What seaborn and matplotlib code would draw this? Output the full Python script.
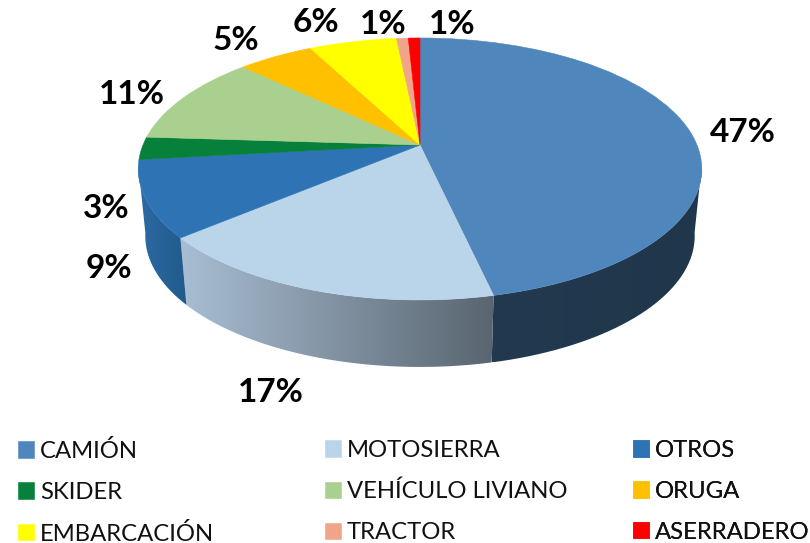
import numpy as np
import matplotlib
matplotlib.use("Agg")
import matplotlib.pyplot as plt
import seaborn as sns
from matplotlib.transforms import Transform
from matplotlib.path import Path
from matplotlib.patches import PathPatch
from matplotlib.colors import LinearSegmentedColormap

categories = ["CAMIÓN", "MOTOSIERRA", "OTROS", "SKIDER", "VEHÍCULO LIVIANO",
              "ORUGA", "EMBARCACIÓN", "TRACTOR", "ASERRADERO"]
values = [46.5, 17.3, 9.4, 2.8, 11.2, 5.2, 6.0, 0.8, 0.8]
percent_labels = ["47%", "17%", "9%", "3%", "11%", "5%", "6%", "1%", "1%"]
hex_colors = ["#4f86bb", "#bad4ea", "#2e74b5", "#07803c", "#a9d08e",
              "#ffc000", "#ffff00", "#f0a58a", "#ff0000"]
label_xy = [(743, 133), (271, 392), (109, 269), (106, 209), (132, 95),
            (236, 41), (316, 23), (383, 24), (452, 24)]
wall_ramps = {0: ("#22394f", "#1f364b"), 1: ("#a9bed3", "#596570"), 2: ("#2c6ba3", "#225a8c")}

sns.set_theme(style="white")
plt.rcParams["font.family"] = ["Lato", "DejaVu Sans"]
palette = sns.color_palette(hex_colors)

CX, CY, RX, RY, K = 420.0, 145.0, 277.0, 126.6, 0.183
DEPTH, SHRINK = 67.0, 0.975


class DiscView(Transform):
    """Tilted-disc perspective from the unit circle to figure pixels."""
    input_dims = 2
    output_dims = 2
    is_separable = False
    has_inverse = False

    def __init__(self, scale=1.0, dy=0.0):
        super().__init__()
        self.scale, self.dy = scale, dy

    def transform_non_affine(self, values):
        p = np.asarray(values, dtype=float)
        w = 1 + K * p[:, 1]
        return np.column_stack((CX + RX * self.scale * p[:, 0] / w,
                                CY + self.dy - RY * p[:, 1] / w))


fig = plt.figure(figsize=(8.1, 5.43), dpi=100)
ax = fig.add_axes([0, 0, 1, 1])

wedges, _ = ax.pie(values, colors=palette, startangle=90, counterclock=False,
                   radius=1.0, center=(0, 0),
                   wedgeprops=dict(linewidth=0.4, zorder=5))
top = DiscView()
bottom = DiscView(SHRINK, DEPTH)
for i, wd in enumerate(wedges):
    wd.set_edgecolor(hex_colors[i])
    wd.set_transform(top + ax.transData)

ax.set_aspect("auto")
ax.set_xlim(0, 810)
ax.set_ylim(543, 0)
ax.axis("off")

# side wall, built from the same slice angles
edges = np.concatenate(([0.0], np.cumsum(values))) / np.sum(values) * 360.0
for i, (c0, c1) in wall_ramps.items():
    a0, a1 = max(edges[i], 99.0), min(edges[i + 1], 261.0)
    th = np.radians(np.linspace(a0, a1, 120))
    unit = np.column_stack((np.sin(th), np.cos(th)))
    upper = top.transform(unit)
    lower = bottom.transform(unit)
    poly = np.vstack((upper, lower[::-1], upper[:1]))
    patch = PathPatch(Path(poly), facecolor="none", edgecolor="none", zorder=1)
    ax.add_patch(patch)
    cmap = LinearSegmentedColormap.from_list(f"wall{i}", [c0, c1])
    x0, x1 = poly[:, 0].min(), poly[:, 0].max()
    im = ax.imshow(np.linspace(0, 1, 256)[None, :], cmap=cmap, aspect="auto",
                   extent=(x0, x1, poly[:, 1].max(), poly[:, 1].min()),
                   zorder=2, interpolation="bilinear")
    im.set_clip_path(patch)
ax.set_xlim(0, 810)
ax.set_ylim(543, 0)

for txt, (x, y) in zip(percent_labels, label_xy):
    ax.text(x, y, txt, ha="center", va="center", fontsize=24, fontweight="bold", color="black")

# legend: three aligned columns, read row by row in the reference
for col, x in enumerate((18, 325, 633)):
    idx = list(range(col, 9, 3))
    leg = ax.legend([wedges[j] for j in idx], [categories[j] for j in idx],
                    loc="upper left", bbox_to_anchor=(x, 440), bbox_transform=ax.transData,
                    frameon=False, fontsize=17.2, borderpad=0, borderaxespad=0,
                    handlelength=0.67, handleheight=0.67, handletextpad=0.25,
                    labelspacing=0.83, labelcolor="#111111")
    ax.add_artist(leg)

fig.savefig("out.png", dpi=100, facecolor="white")
